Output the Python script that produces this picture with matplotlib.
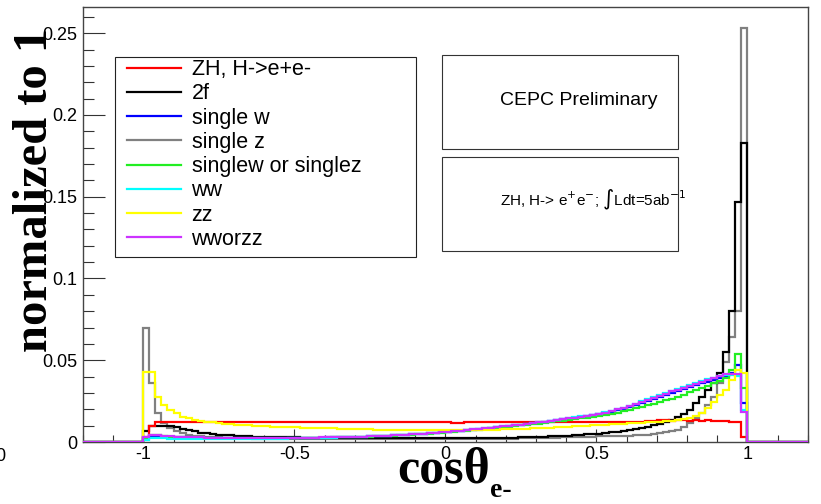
import matplotlib
matplotlib.use("Agg")
import matplotlib.pyplot as plt
import numpy as np
from matplotlib.lines import Line2D
from matplotlib.patches import Rectangle
from matplotlib.ticker import MultipleLocator, FuncFormatter

plt.rcParams['font.family'] = ['Liberation Sans', 'DejaVu Sans']
plt.rcParams['axes.unicode_minus'] = False

# cos(theta) of the electron, 100 bins of 0.02 between -1 and 1
# (histogram range is -1.2..1.2, outer bins are empty)
x_lo, x_hi, n_bins = -1.0, 1.0, 100
pad_bins = 10

# bin contents, normalized to 1, in units of 1e-3
zh_ee = [3.0, 10.0, 12.0, 12.5, 12.5, 12.0, 12.5, 12.5, 12.0, 12.0,
         12.5, 12.0, 12.5, 12.5, 12.0, 12.0, 12.5, 12.0, 12.0, 12.5,
         12.5, 12.0, 12.0, 12.5, 12.0, 12.5, 12.5, 12.0, 12.0, 12.5,
         12.0, 12.0, 12.5, 12.5, 12.0, 12.0, 12.5, 12.5, 12.0, 12.0,
         12.0, 12.5, 12.0, 12.0, 12.5, 12.5, 12.0, 12.0, 12.5, 12.5,
         12.0, 11.5, 11.5, 12.0, 12.0, 12.5, 12.0, 12.0, 12.0, 12.5,
         12.0, 12.0, 12.5, 12.0, 12.0, 12.5, 12.0, 12.0, 12.5, 12.0,
         12.0, 12.5, 12.0, 12.0, 12.5, 12.0, 12.5, 12.0, 12.0, 12.5,
         12.0, 12.5, 12.5, 13.0, 13.0, 13.5, 13.5, 13.0, 13.5, 13.5,
         13.0, 13.5, 13.0, 13.5, 13.0, 13.0, 13.0, 12.5, 12.5, 3.0]
twof = [7.0, 9.5, 9.8, 10.0, 9.8, 9.0, 8.0, 7.3, 6.5, 5.8,
        5.3, 4.8, 4.5, 4.3, 4.0, 3.8, 3.6, 3.4, 3.3, 3.2,
        3.1, 3.0, 2.9, 2.9, 2.8, 2.8, 2.7, 2.7, 2.6, 2.6,
        2.6, 2.5, 2.5, 2.5, 2.4, 2.4, 2.4, 2.4, 2.3, 2.3,
        2.3, 2.3, 2.3, 2.2, 2.2, 2.2, 2.2, 2.2, 2.2, 2.2,
        2.2, 2.2, 2.2, 2.3, 2.3, 2.3, 2.4, 2.4, 2.5, 2.6,
        2.6, 2.7, 2.8, 2.9, 3.0, 3.1, 3.2, 3.4, 3.5, 3.7,
        3.9, 4.1, 4.3, 4.6, 4.9, 5.2, 5.5, 5.9, 6.3, 6.8,
        7.3, 7.9, 8.6, 9.4, 10.2, 11.0, 12.0, 13.5, 15.0, 17.0,
        19.6, 23.7, 27.7, 31.8, 36.0, 42.0, 55.0, 80.0, 147.0, 183.0]
single_w = [2.5, 3.5, 3.5, 3.3, 3.1, 3.0, 2.9, 2.8, 2.7, 2.6,
            2.6, 2.5, 2.5, 2.5, 2.5, 2.4, 2.4, 2.4, 2.4, 2.4,
            2.4, 2.4, 2.4, 2.5, 2.5, 2.5, 2.6, 2.6, 2.7, 2.7,
            2.8, 2.8, 2.9, 3.0, 3.1, 3.2, 3.3, 3.4, 3.6, 3.7,
            3.9, 4.0, 4.2, 4.4, 4.6, 4.9, 5.1, 5.4, 5.7, 6.0,
            6.3, 6.6, 6.9, 7.2, 7.6, 7.9, 8.2, 8.6, 9.0, 9.4,
            9.8, 10.2, 10.6, 11.0, 11.4, 11.9, 12.3, 12.8, 13.3, 13.8,
            14.3, 14.8, 15.3, 15.8, 16.4, 17.0, 17.7, 18.5, 19.4, 20.4,
            21.4, 22.6, 23.8, 25.0, 26.2, 27.4, 28.6, 29.8, 31.0, 32.2,
            33.4, 34.6, 35.8, 37.0, 38.2, 39.4, 40.6, 42.0, 47.0, 23.6]
single_z = [69.5, 36.0, 17.5, 11.5, 8.5, 6.5, 5.3, 4.5, 3.9, 3.5,
            3.2, 3.0, 2.8, 2.6, 2.5, 2.4, 2.3, 2.2, 2.1, 2.0,
            2.0, 1.9, 1.9, 1.8, 1.8, 1.8, 1.7, 1.7, 1.7, 1.7,
            1.7, 1.6, 1.6, 1.6, 1.6, 1.6, 1.6, 1.6, 1.6, 1.6,
            1.6, 1.6, 1.6, 1.6, 1.6, 1.6, 1.6, 1.6, 1.7, 1.7,
            1.7, 1.7, 1.7, 1.8, 1.8, 1.8, 1.9, 1.9, 2.0, 2.0,
            2.1, 2.1, 2.2, 2.3, 2.3, 2.4, 2.5, 2.6, 2.7, 2.8,
            2.9, 3.0, 3.1, 3.2, 3.3, 3.4, 3.5, 3.6, 3.7, 3.8,
            3.9, 4.0, 4.2, 4.4, 4.8, 5.3, 5.9, 6.5, 7.5, 9.0,
            11.4, 14.5, 17.5, 22.6, 27.7, 36.0, 49.0, 64.0, 80.0, 253.0]
singlew_or_z = [2.5, 4.3, 4.0, 3.6, 3.3, 3.1, 3.0, 2.9, 2.8, 2.7,
                2.6, 2.6, 2.5, 2.5, 2.5, 2.4, 2.4, 2.4, 2.4, 2.4,
                2.4, 2.4, 2.4, 2.4, 2.5, 2.5, 2.5, 2.6, 2.6, 2.7,
                2.7, 2.8, 2.9, 2.9, 3.0, 3.1, 3.2, 3.3, 3.5, 3.6,
                3.8, 3.9, 4.1, 4.3, 4.5, 4.7, 5.0, 5.2, 5.5, 5.8,
                6.1, 6.4, 6.7, 7.0, 7.3, 7.6, 7.9, 8.3, 8.6, 9.0,
                9.4, 9.7, 10.1, 10.5, 10.9, 11.3, 11.7, 12.1, 12.6, 13.0,
                13.5, 13.9, 14.4, 14.9, 15.4, 15.9, 16.6, 17.3, 18.0, 18.8,
                19.6, 20.5, 21.4, 22.4, 23.4, 24.4, 25.5, 26.6, 27.8, 29.0,
                30.3, 31.6, 33.0, 34.4, 35.8, 37.2, 39.0, 44.0, 53.8, 32.8]
ww = [1.5, 2.2, 2.3, 2.2, 2.1, 2.0, 2.0, 1.9, 1.9, 1.9,
      1.9, 1.9, 1.9, 1.9, 1.9, 1.9, 1.9, 1.9, 2.0, 2.0,
      2.0, 2.0, 2.1, 2.1, 2.2, 2.2, 2.3, 2.4, 2.4, 2.5,
      2.6, 2.7, 2.8, 2.9, 3.0, 3.1, 3.2, 3.4, 3.5, 3.7,
      3.9, 4.1, 4.3, 4.5, 4.7, 4.9, 5.2, 5.5, 5.8, 6.1,
      6.4, 6.7, 7.0, 7.3, 7.7, 8.0, 8.3, 8.7, 9.1, 9.5,
      9.9, 10.3, 10.7, 11.1, 11.6, 12.1, 12.5, 13.0, 13.5, 14.0,
      14.5, 15.0, 15.6, 16.1, 16.7, 17.4, 18.2, 19.1, 20.1, 21.1,
      22.3, 23.5, 24.8, 26.1, 27.3, 28.6, 29.9, 31.2, 32.4, 33.6,
      34.8, 36.0, 37.2, 38.3, 39.4, 40.4, 41.2, 41.0, 40.5, 19.6]
zz = [43.0, 43.0, 27.7, 22.6, 19.6, 17.5, 15.5, 14.5, 13.4, 12.9,
      12.4, 12.0, 11.6, 11.2, 10.9, 10.6, 10.4, 10.2, 10.0, 9.8,
      9.6, 9.4, 9.3, 9.1, 9.0, 8.9, 8.8, 8.7, 8.6, 8.5,
      8.4, 8.3, 8.2, 8.1, 8.0, 7.9, 7.8, 7.7, 7.6, 7.6,
      7.5, 7.4, 7.4, 7.3, 7.3, 7.2, 7.2, 7.2, 7.1, 7.1,
      7.1, 7.1, 7.2, 7.2, 7.3, 7.3, 7.4, 7.5, 7.6, 7.7,
      7.8, 7.9, 8.0, 8.1, 8.3, 8.4, 8.6, 8.8, 9.0, 9.2,
      9.4, 9.6, 9.8, 10.0, 10.2, 10.4, 10.6, 10.8, 11.0, 11.2,
      11.4, 11.6, 11.8, 12.0, 12.2, 12.4, 12.7, 13.0, 13.4, 14.0,
      14.5, 16.0, 17.5, 20.6, 24.7, 29.0, 32.0, 38.0, 44.0, 42.0]
ww_or_zz = [3.3, 4.3, 4.0, 3.7, 3.5, 3.3, 3.1, 3.0, 2.9, 2.8,
            2.7, 2.7, 2.6, 2.6, 2.6, 2.6, 2.5, 2.5, 2.5, 2.5,
            2.5, 2.5, 2.5, 2.5, 2.6, 2.6, 2.6, 2.7, 2.7, 2.8,
            2.8, 2.9, 3.0, 3.0, 3.1, 3.2, 3.3, 3.5, 3.6, 3.8,
            3.9, 4.1, 4.3, 4.5, 4.7, 4.9, 5.2, 5.5, 5.8, 6.1,
            6.4, 6.7, 7.0, 7.3, 7.7, 8.0, 8.3, 8.7, 9.1, 9.5,
            9.9, 10.3, 10.7, 11.1, 11.5, 12.0, 12.4, 12.9, 13.4, 13.9,
            14.4, 14.9, 15.4, 15.9, 16.5, 17.1, 18.0, 18.9, 19.9, 20.9,
            22.0, 23.2, 24.5, 25.8, 27.0, 28.3, 29.6, 30.9, 32.1, 33.3,
            34.5, 35.7, 36.9, 38.0, 39.2, 40.3, 41.4, 41.4, 41.4, 18.5]

labels = ['ZH, H->e+e-', '2f', 'single w', 'single z', 'singlew or singlez',
          'ww', 'zz', 'wworzz']
series = [zh_ee, twof, single_w, single_z, singlew_or_z, ww, zz, ww_or_zz]
colors = ['#ff0000', '#000000', '#0000ff', '#808080', '#22ee22', '#00ffff',
          '#ffff00', '#cc33ff']
# drawing order (higher on top)
zorders = [3, 2.5, 4, 2, 5, 6, 7, 8]

step = (x_hi - x_lo) / n_bins
edges = np.linspace(x_lo - pad_bins * step, x_hi + pad_bins * step,
                    n_bins + 2 * pad_bins + 1)

fig = plt.figure(figsize=(8.21, 5.04), dpi=100)
ax = fig.add_axes([0.101, 0.123, 0.883, 0.863])

for vals, c, z in zip(series, colors, zorders):
    h = np.concatenate([np.zeros(pad_bins), np.array(vals) * 1e-3, np.zeros(pad_bins)])
    ax.stairs(h, edges, color=c, lw=1.6, zorder=z, baseline=None)

ax.set_xlim(-1.2, 1.2)
ax.set_ylim(0, 0.266)

ax.xaxis.set_major_locator(MultipleLocator(0.5))
ax.xaxis.set_minor_locator(MultipleLocator(0.1))
ax.yaxis.set_major_locator(MultipleLocator(0.05))
ax.yaxis.set_minor_locator(MultipleLocator(0.01))
fmt = FuncFormatter(lambda v, p: '%g' % round(v, 4))
ax.xaxis.set_major_formatter(fmt)
ax.yaxis.set_major_formatter(fmt)
ax.tick_params(axis='both', which='both', direction='in', top=False, right=False,
               labelsize=13, width=0.8, color='#333333')
ax.tick_params(axis='y', which='major', length=15.8, pad=4)
ax.tick_params(axis='y', which='minor', length=7.9)
ax.tick_params(axis='x', which='major', length=9.4, pad=3)
ax.tick_params(axis='x', which='minor', length=4.7)
for s in ax.spines.values():
    s.set_color('#444444')
    s.set_linewidth(1.0)

serif = ['Liberation Serif', 'DejaVu Serif']
ax.set_ylabel('normalized to 1', family=serif, weight='bold', fontsize=35)
ax.yaxis.set_label_coords(-0.036, 0.58)
ax.set_xlabel('cosθ', family=serif, weight='bold', fontsize=36, va='baseline')
ax.xaxis.set_label_coords(0.498, -0.092)
# subscript of the axis title
fig.text(490 / 821, 1 - 497 / 504, 'e-', family=serif, weight='bold', fontsize=20,
         va='baseline', ha='left')

# legend: frame drawn as its own box, entries placed inside it
ax.add_patch(Rectangle((0.0441, 0.425), 0.415, 0.46, transform=ax.transAxes,
                       facecolor='white', edgecolor='#222222', lw=0.8, zorder=9))
handles = [Line2D([], [], color=c, lw=1.6) for c in colors]
leg = ax.legend(handles, labels, loc='upper left', bbox_to_anchor=(0.0607, 0.88),
                borderaxespad=0, borderpad=0, fontsize=15.5, handlelength=2.5,
                handletextpad=0.5, labelspacing=0.15, frameon=False)
leg.set_zorder(10)

# text boxes
for y0, y1 in [(0.6736, 0.8897), (0.4398, 0.6559)]:
    ax.add_patch(Rectangle((0.4948, y0), 0.8207 - 0.4948, y1 - y0, transform=ax.transAxes,
                           fill=True, facecolor='white', edgecolor='#333333', lw=0.8, zorder=9))
ax.text(0.575, 0.786, 'CEPC Preliminary', transform=ax.transAxes, fontsize=14,
        ha='left', va='center', zorder=10)
ax.text(0.575, 0.556, r'ZH, H-> e$^{+}$e$^{-}$; $\int$Ldt=5ab$^{-1}$', transform=ax.transAxes,
        fontsize=11, ha='left', va='center', zorder=10, math_fontfamily='dejavusans')

# clipped tick label at the very left edge
fig.text(-0.006, 0.085, '0', fontsize=13)

fig.savefig('out.png', dpi=100)
